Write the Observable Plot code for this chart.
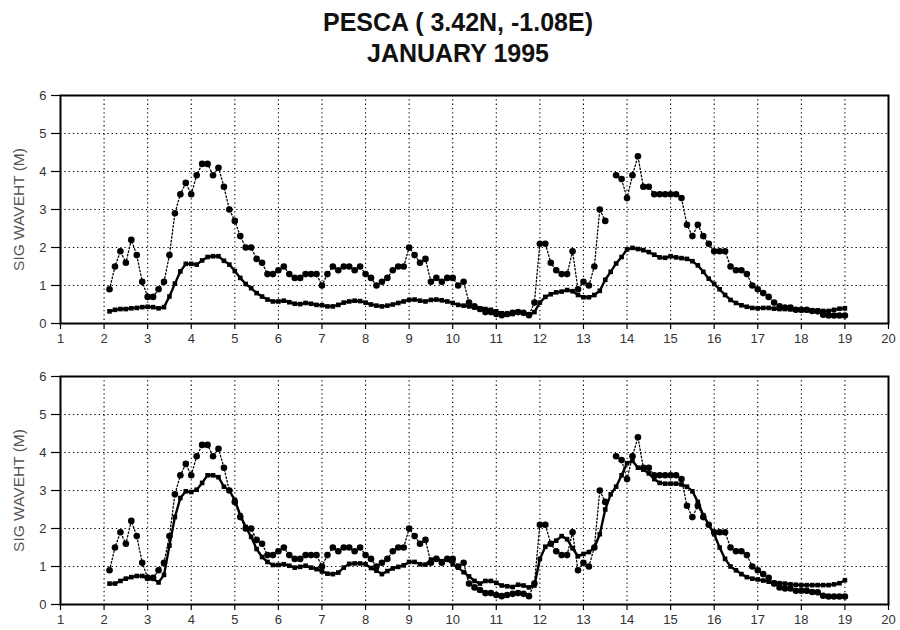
<!DOCTYPE html>
<html>
<head>
<meta charset="utf-8">
<script src="https://cdn.jsdelivr.net/npm/d3@7"></script>
<script src="https://cdn.jsdelivr.net/npm/@observablehq/plot@0.6"></script>
<style>
  html, body { margin: 0; padding: 0; background: #fff; }
  #wrap { position: relative; width: 900px; height: 630px; font-family: "Liberation Sans", Arial, sans-serif; color: #111; }
  #title { position: absolute; left: 0; width: 916px; top: 7px; text-align: center; font-weight: bold; font-size: 25px; line-height: 31px; color: #111; }
  .panel { position: absolute; left: 0; }
</style>
</head>
<body>
<div id="wrap">
  <div id="title">PESCA ( 3.42N, -1.08E)<br>JANUARY 1995</div>
  <div id="p1" class="panel" style="top:80px"></div>
  <div id="p2" class="panel" style="top:361px"></div>
</div>
<script>
// Sampling: 3-hourly values, first sample at day 2.125 (Jan 2, 03Z)
const startDay = 2.125;
const stepDay = 0.125;

// Observed significant wave height (buoy), same in both panels (NaN = missing)
const observed = [
  0.9,1.5,1.9,1.6,2.2,1.8,1.1,0.7,
  0.7,0.9,1.1,1.8,2.9,3.4,3.7,3.4,
  3.9,4.2,4.2,3.9,4.1,3.6,3.0,2.7,
  2.3,2.0,2.0,1.7,1.6,1.3,1.3,1.4,
  1.5,1.3,1.2,1.2,1.3,1.3,1.3,1.0,
  1.3,1.5,1.4,1.5,1.5,1.4,1.5,1.3,
  1.2,1.0,1.1,1.2,1.4,1.5,1.5,2.0,
  1.8,1.6,1.7,1.1,1.2,1.1,1.2,1.2,
  1.0,1.1,0.55,0.45,0.38,0.3,0.3,0.25,
  0.22,0.25,0.28,0.3,0.28,0.22,0.55,2.1,
  2.1,1.6,1.4,1.3,1.3,1.9,0.9,1.1,
  1.0,1.5,3.0,2.7,NaN,3.9,3.8,3.3,
  3.9,4.4,3.6,3.6,3.4,3.4,3.4,3.4,
  3.4,3.3,2.6,2.3,2.6,2.3,2.1,1.9,
  1.9,1.9,1.5,1.4,1.4,1.3,1.0,0.9,
  0.8,0.7,0.55,0.45,0.42,0.42,0.36,0.36,
  0.36,0.33,0.32,0.23,0.21,0.21,0.21,0.21
];

// Model run, upper panel
const modelTop = [
  0.32,0.36,0.38,0.38,0.40,0.41,0.43,0.44,
  0.43,0.40,0.43,0.71,1.05,1.37,1.57,1.57,
  1.55,1.66,1.75,1.77,1.77,1.65,1.55,1.38,
  1.20,1.04,0.93,0.80,0.71,0.63,0.58,0.58,
  0.60,0.56,0.52,0.51,0.54,0.52,0.49,0.48,
  0.45,0.45,0.49,0.55,0.58,0.60,0.59,0.55,
  0.50,0.47,0.45,0.47,0.50,0.54,0.58,0.62,
  0.63,0.60,0.58,0.62,0.63,0.61,0.58,0.54,
  0.49,0.47,0.45,0.42,0.40,0.38,0.36,0.32,
  0.27,0.23,0.25,0.30,0.28,0.23,0.30,0.55,
  0.70,0.77,0.82,0.84,0.88,0.85,0.75,0.69,
  0.69,0.75,0.86,1.15,1.36,1.58,1.75,1.95,
  1.99,1.96,1.93,1.88,1.81,1.74,1.73,1.77,
  1.74,1.72,1.70,1.64,1.53,1.36,1.18,1.04,
  0.90,0.75,0.62,0.54,0.48,0.44,0.41,0.40,
  0.41,0.41,0.39,0.38,0.38,0.37,0.36,0.35,
  0.35,0.34,0.34,0.33,0.33,0.36,0.39,0.40
];

// Model run, lower panel
const modelBottom = [
  0.55,0.55,0.62,0.68,0.72,0.75,0.75,0.72,
  0.68,0.58,0.78,1.55,2.3,2.8,2.98,2.96,
  3.02,3.2,3.4,3.4,3.35,3.1,3.0,2.75,
  2.35,2.04,1.78,1.46,1.25,1.12,1.04,1.04,
  1.06,1.02,0.97,0.99,1.02,0.97,0.93,0.87,
  0.81,0.80,0.84,0.97,1.07,1.08,1.08,1.06,
  0.96,0.89,0.80,0.88,0.95,0.99,1.03,1.12,
  1.12,1.06,1.05,1.18,1.22,1.14,1.18,1.06,
  0.97,0.85,0.74,0.62,0.55,0.62,0.62,0.57,
  0.50,0.48,0.46,0.52,0.50,0.45,0.50,1.20,
  1.52,1.60,1.68,1.80,1.72,1.48,1.27,1.33,
  1.38,1.50,1.85,2.5,2.9,3.1,3.4,3.72,
  3.78,3.6,3.55,3.45,3.3,3.2,3.18,3.18,
  3.18,3.16,3.1,2.98,2.7,2.35,2.1,1.85,
  1.5,1.2,1.0,0.9,0.8,0.72,0.68,0.66,
  0.63,0.6,0.58,0.56,0.55,0.53,0.52,0.51,
  0.51,0.51,0.51,0.51,0.51,0.53,0.56,0.64
];

const xTicks = [1,2,3,4,5,6,7,8,9,10,11,12,13,14,15,16,17,18,19,20];
const yTicks = [0,1,2,3,4,5,6];
const xGrid = [2,3,4,5,6,7,8,9,10,11,12,13,14,15,16,17,18,19];
const yGrid = [1,2,3,4,5];
const yLabel = "SIG WAVEHT (M)";

function series(values) {
  return values.map((v, i) => ({day: startDay + i * stepDay, h: v}));
}

const obsData = series(observed);
const obsDots = obsData.filter(d => Number.isFinite(d.h));

function panel(modelValues) {
  const mod = series(modelValues);
  return Plot.plot({
    width: 900,
    height: 270,
    marginTop: 15,
    marginBottom: 27,
    marginLeft: 60,
    marginRight: 12,
    style: {fontFamily: "Liberation Sans, Arial, sans-serif", fontSize: "13px", color: "#222", background: "#fff", overflow: "visible"},
    x: {domain: [1, 20]},
    y: {domain: [0, 6]},
    marks: [
      Plot.ruleX(xGrid, {stroke: "#000", strokeWidth: 1.1, strokeDasharray: "1.3,3"}),
      Plot.ruleY(yGrid, {stroke: "#000", strokeWidth: 1.1, strokeDasharray: "1.3,3"}),
      Plot.axisX({ticks: xTicks, tickSize: 6, tickPadding: 4, tickFormat: d => String(d), label: null, fill: "#333", stroke: "#000", strokeWidth: 1.2}),
      Plot.axisY({ticks: yTicks, tickSize: 9, tickPadding: 5, tickFormat: d => String(d), label: null, fill: "#333", stroke: "#000", strokeWidth: 1.2}),
      Plot.text([yLabel], {frameAnchor: "left", rotate: -90, dx: -41, fontSize: 15.5, fill: "#555", textAnchor: "middle"}),
      Plot.line(mod, {x: "day", y: "h", stroke: "#000", strokeWidth: 2.4}),
      Plot.dot(mod, {x: "day", y: "h", symbol: "square", r: 2.6, fill: "#000", stroke: "none"}),
      Plot.line(obsData, {x: "day", y: "h", stroke: "#000", strokeWidth: 1.3, strokeDasharray: "1.5,2.2"}),
      Plot.dot(obsDots, {x: "day", y: "h", r: 3.3, fill: "#000", stroke: "none"}),
      Plot.frame({stroke: "#000", strokeWidth: 2})
    ]
  });
}

document.getElementById("p1").appendChild(panel(modelTop));
document.getElementById("p2").appendChild(panel(modelBottom));
</script>
</body>
</html>
